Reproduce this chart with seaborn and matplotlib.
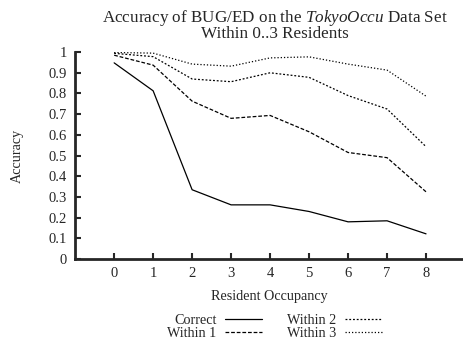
import pandas as pd
import seaborn as sns
import matplotlib.pyplot as plt

occupancy = [0, 1, 2, 3, 4, 5, 6, 7, 8]
correct = [0.948, 0.813, 0.335, 0.262, 0.262, 0.230, 0.180, 0.185, 0.122]
within1 = [0.985, 0.937, 0.763, 0.680, 0.694, 0.615, 0.515, 0.490, 0.325]
within2 = [0.994, 0.978, 0.870, 0.857, 0.900, 0.878, 0.790, 0.725, 0.543]
within3 = [0.998, 0.995, 0.942, 0.932, 0.972, 0.977, 0.942, 0.913, 0.787]
series_names = ['Correct', 'Within 1', 'Within 2', 'Within 3']

df = pd.DataFrame({
    'x': occupancy * 4,
    'y': correct + within1 + within2 + within3,
    'series': [n for n in series_names for _ in occupancy],
})

sns.set_style('ticks')
plt.rcParams['font.family'] = ['Liberation Serif', 'DejaVu Serif']
plt.rcParams['mathtext.fontset'] = 'custom'
plt.rcParams['mathtext.rm'] = 'Liberation Serif'
plt.rcParams['mathtext.it'] = 'Liberation Serif:italic'

fig = plt.figure(figsize=(4.64, 3.45), dpi=100)
ax = fig.add_axes([0.162, 0.249, 0.836, 0.600])

dashes = {'Correct': '', 'Within 1': (3, 1.5), 'Within 2': (1.5, 1.5), 'Within 3': (1, 1.6)}
sns.lineplot(data=df, x='x', y='y', hue='series', style='series',
             palette=['black'] * 4, dashes=dashes, linewidth=0.9, ax=ax)

ax.set_xlim(-1, 8.95)
ax.set_ylim(0, 1)
ax.set_xticks(occupancy)
ax.set_yticks([0, 0.1, 0.2, 0.3, 0.4, 0.5, 0.6, 0.7, 0.8, 0.9, 1])
ax.set_yticklabels(['0', '0.1', '0.2', '0.3', '0.4', '0.5', '0.6', '0.7', '0.8', '0.9', '1'])
ax.tick_params(direction='in', length=4, width=1.5, labelsize=10.5, pad=6)
for s in ['top', 'right']:
    ax.spines[s].set_visible(False)
for s in ['left', 'bottom']:
    ax.spines[s].set_linewidth(2)

ax.set_xlabel('Resident Occupancy', fontsize=10.2, labelpad=7)
ax.set_ylabel('Accuracy', fontsize=10.2, labelpad=18)
ax.set_title('Accuracy of BUG/ED on the $TokyoOccu$ Data Set\nWithin 0..3 Residents',
             fontsize=12.3, linespacing=0.88, pad=10, x=0.515)

handles, labels = ax.get_legend_handles_labels()
ax.legend(handles, labels, ncol=2, markerfirst=False, frameon=False,
          loc='upper center', bbox_to_anchor=(0.514, -0.215), fontsize=10.2,
          handlelength=2.6, labelspacing=0.0, columnspacing=1.8, handletextpad=0.6,
          borderpad=0.2)

fig.savefig('out.png', dpi=100)
